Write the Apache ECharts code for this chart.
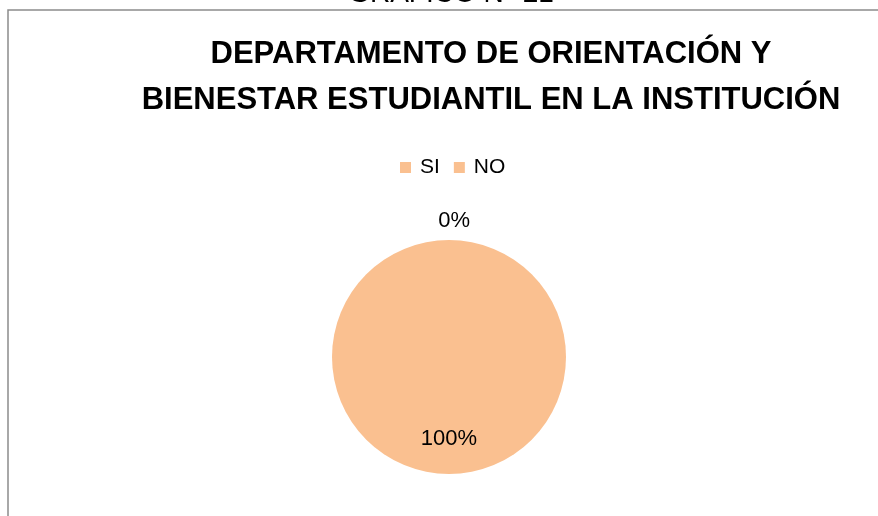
<!DOCTYPE html>
<html>
<head>
<meta charset="utf-8">
<script src="https://cdn.jsdelivr.net/npm/echarts@6/dist/echarts.min.js"></script>
<style>
  html, body { margin: 0; padding: 0; background: #fff; }
  #chart { width: 878px; height: 516px; }
</style>
</head>
<body>
<div id="chart"></div>
<script>
// datos del gráfico
const categorias = ["SI", "NO"];
const valores = [0, 100];
const colores = ["#FAC090", "#FAC090"];

let chartDom = document.getElementById("chart");
let myChart = echarts.init(chartDom);

let option = {
  animation: false,
  title: {
    text: "DEPARTAMENTO DE ORIENTACIÓN Y\nBIENESTAR ESTUDIANTIL EN LA INSTITUCIÓN",
    left: 486,
    textAlign: "center",
    top: 26,
    textStyle: {
      fontFamily: "Liberation Sans",
      fontWeight: "bold",
      fontSize: 31,
      lineHeight: 46,
      color: "#000",
    },
  },
  legend: {
    data: categorias,
    top: 152,
    left: 395,
    itemWidth: 11,
    itemHeight: 11,
    itemGap: 14,
    icon: "rect",
    textStyle: {
      fontFamily: "Liberation Sans",
      fontSize: 21,
      color: "#000",
      padding: [0, 0, 0, 4],
    },
  },
  // marco del gráfico y título superior recortado
  graphic: [
    {
      type: "rect",
      shape: { x: 8, y: 10, width: 900, height: 600 },
      style: { fill: "none", stroke: "#8c8c8c", lineWidth: 1.5 },
    },
    {
      type: "text",
      x: 451,
      y: 8,
      style: {
        text: "GRÁFICO N° 21",
        fontFamily: "Liberation Sans",
        fontSize: 28,
        fill: "#000",
        align: "center",
        verticalAlign: "bottom",
      },
    },
  ],
  series: [
    {
      type: "pie",
      center: [449, 357],
      radius: 117,
      startAngle: 90,
      clockwise: true,
      avoidLabelOverlap: false,
      itemStyle: { borderWidth: 0 },
      label: {
        show: true,
        formatter: "{d}%",
        fontFamily: "Liberation Sans",
        fontSize: 22,
        color: "#000",
      },
      labelLine: { show: false },
      // desplazar etiquetas como en el original
      labelLayout: function (params) {
        if (params.dataIndex === 0) return { dx: 26, dy: -9 };
        return { dy: 20 };
      },
      data: categorias.map((c, i) => {
        let d = { name: c, value: valores[i], itemStyle: { color: colores[i] } };
        if (i === 0) {
          d.label = { position: "outside" };
          d.labelLine = { show: false, length: 10, length2: 0 };
        } else {
          d.label = { position: "inner" };
        }
        return d;
      }),
    },
  ],
};

myChart.setOption(option);
</script>
</body>
</html>
